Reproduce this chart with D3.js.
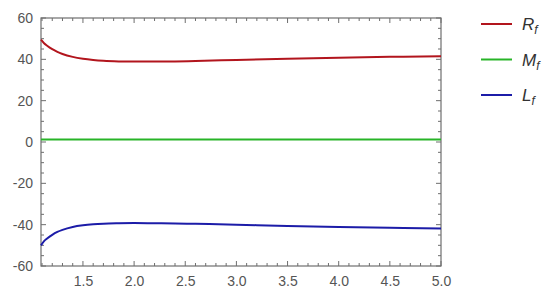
<!DOCTYPE html>
<html>
<head>
<meta charset="utf-8">
<script src="https://cdn.jsdelivr.net/npm/d3@7"></script>
<style>
  body { margin: 0; background: #fff; }
  svg { display: block; font-family: "Liberation Sans", Arial, sans-serif; }
</style>
</head>
<body>
<div id="chart"></div>
<script>
// values
const xs = [1.09, 1.12, 1.15, 1.2, 1.25, 1.3, 1.4, 1.5, 1.6, 1.7, 1.85, 2.0, 2.2, 2.4, 2.6, 3.0, 3.5, 4.0, 4.5, 5.0];
const rf = [49.5, 47.8, 46.6, 44.9, 43.6, 42.6, 41.2, 40.3, 39.7, 39.3, 39.0, 38.9, 38.9, 39.0, 39.2, 39.7, 40.3, 40.8, 41.2, 41.5];
const mf = xs.map(() => 1.2);
const lf = [-50.0, -48.0, -46.7, -44.9, -43.5, -42.5, -41.1, -40.3, -39.8, -39.5, -39.3, -39.2, -39.3, -39.4, -39.6, -40.0, -40.6, -41.1, -41.5, -41.8];

const xTicks = [1.5, 2.0, 2.5, 3.0, 3.5, 4.0, 4.5, 5.0];
const yTicks = [-60, -40, -20, 0, 20, 40, 60];

const series = [
  {name: 'R', sub: 'f', color: '#b2151d', values: rf},
  {name: 'M', sub: 'f', color: '#28b428', values: mf},
  {name: 'L', sub: 'f', color: '#1c1ca8', values: lf}
];

const width = 550, height = 295;
const margin = {top: 18, right: 109, bottom: 29, left: 41};
const innerW = width - margin.left - margin.right;
const innerH = height - margin.top - margin.bottom;

const svg = d3.select('#chart').append('svg')
  .attr('width', width)
  .attr('height', height);

const g = svg.append('g')
  .attr('transform', `translate(${margin.left},${margin.top})`);

const x = d3.scaleLinear().domain([1.09, 5.0]).range([0, innerW]);
const y = d3.scaleLinear().domain([-60, 60]).range([innerH, 0]);

const minorX = d3.range(1.1, 5.001, 0.1).map(d => +d.toFixed(1));
const minorY = d3.range(-60, 60.001, 5);

const axisColor = '#6e6e6e';

// tick marks on all four sides, pointing inward
function drawTicks(side) {
  const grp = g.append('g').attr('stroke', axisColor).attr('stroke-width', 1);
  if (side === 'bottom' || side === 'top') {
    const y0 = side === 'bottom' ? innerH : 0;
    const dir = side === 'bottom' ? -1 : 1;
    minorX.forEach(v => {
      const major = xTicks.some(t => Math.abs(t - v) < 1e-6);
      grp.append('line')
        .attr('x1', x(v)).attr('x2', x(v))
        .attr('y1', y0).attr('y2', y0 + dir * (major ? 5 : 3));
    });
  } else {
    const x0 = side === 'left' ? 0 : innerW;
    const dir = side === 'left' ? 1 : -1;
    minorY.forEach(v => {
      const major = yTicks.includes(v);
      grp.append('line')
        .attr('y1', y(v)).attr('y2', y(v))
        .attr('x1', x0).attr('x2', x0 + dir * (major ? 5 : 3));
    });
  }
}
['bottom', 'top', 'left', 'right'].forEach(drawTicks);

// frame
g.append('rect')
  .attr('width', innerW).attr('height', innerH)
  .attr('fill', 'none')
  .attr('stroke', axisColor)
  .attr('stroke-width', 1.2);

// tick labels via d3 axes (no tick lines)
const xAxis = g.append('g')
  .attr('transform', `translate(0,${innerH})`)
  .call(d3.axisBottom(x).tickValues(xTicks).tickFormat(d3.format('.1f')).tickSize(0).tickPadding(10));
const yAxis = g.append('g')
  .call(d3.axisLeft(y).tickValues(yTicks).tickFormat(d => d).tickSize(0).tickPadding(8));
[xAxis, yAxis].forEach(a => {
  a.select('.domain').remove();
  a.selectAll('text')
    .attr('fill', '#555')
    .style('font-size', '14px')
    .style('font-family', '"Liberation Sans", Arial, sans-serif');
});

// lines
const line = d3.line()
  .x((d, i) => x(xs[i]))
  .y(d => y(d))
  .curve(d3.curveMonotoneX);

series.forEach(s => {
  g.append('path')
    .datum(s.values)
    .attr('fill', 'none')
    .attr('stroke', s.color)
    .attr('stroke-width', 2)
    .attr('d', line);
});

// legend
const legend = svg.append('g').attr('transform', 'translate(481,24)');
series.forEach((s, i) => {
  const row = legend.append('g').attr('transform', `translate(0,${i * 35.5})`);
  row.append('line')
    .attr('x1', 0).attr('x2', 31)
    .attr('stroke', s.color).attr('stroke-width', 2);
  const t = row.append('text')
    .attr('x', 41).attr('y', 6)
    .attr('fill', '#333')
    .style('font-style', 'italic')
    .style('font-size', '17px');
  t.append('tspan').text(s.name);
  t.append('tspan').attr('dy', 4).style('font-size', '12px').text(s.sub);
});
</script>
</body>
</html>
